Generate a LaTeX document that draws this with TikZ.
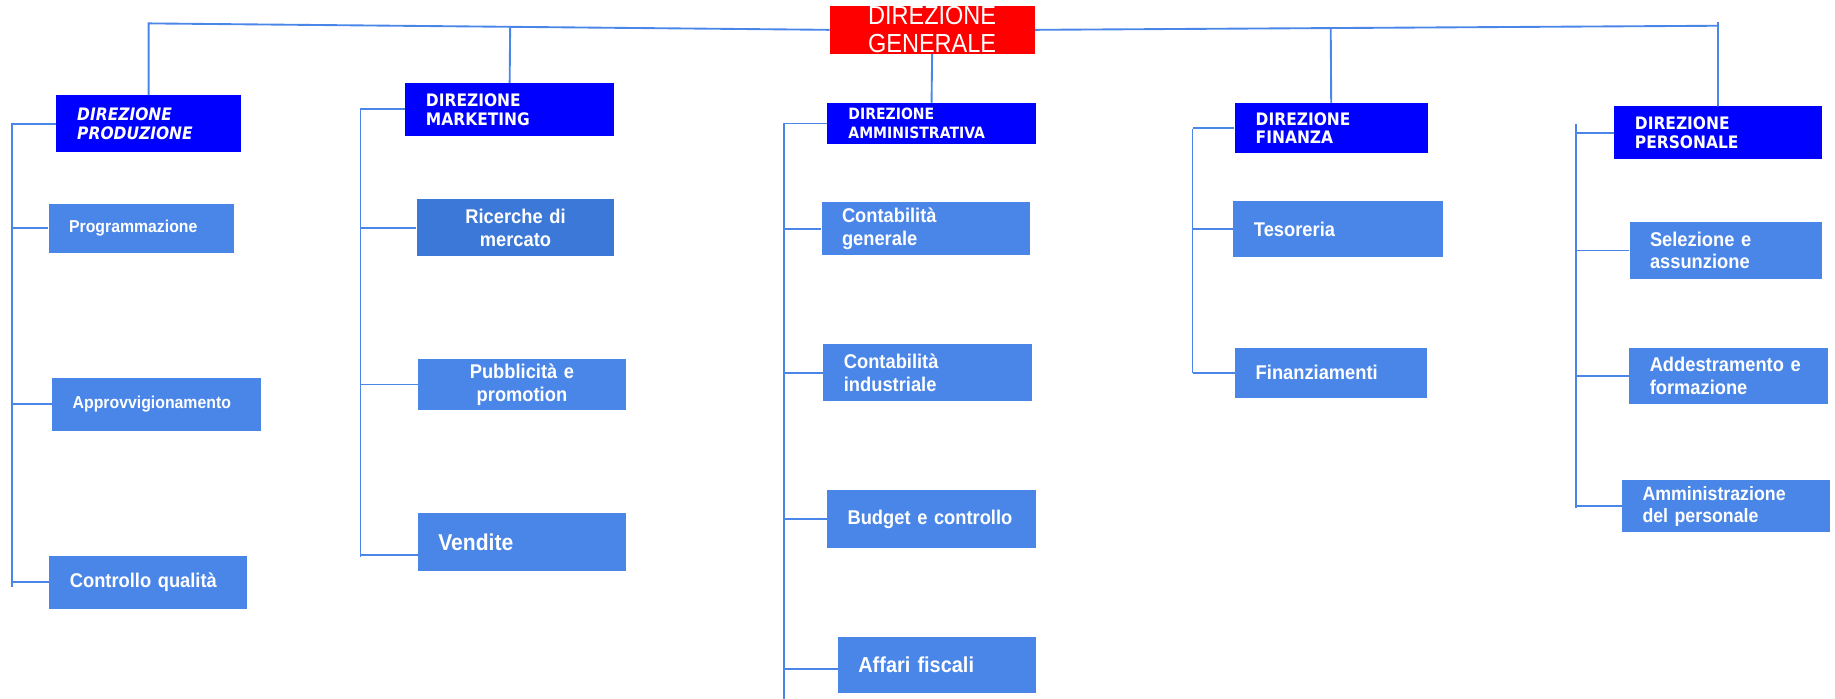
\documentclass[tikz,border=0pt]{standalone}
\usepackage{fontspec}
\setmainfont{Liberation Sans}
\newfontfamily\dgfont[FakeStretch=0.9]{Liberation Sans}
\newfontfamily\boxfont[FakeStretch=0.92]{Liberation Sans}
\newfontfamily\dirfont[FakeStretch=0.9]{DejaVu Sans}
\usetikzlibrary{calc}
\definecolor{linkblue}{RGB}{74,134,232}
\definecolor{unitblue}{RGB}{74,134,232}
\definecolor{unitdark}{RGB}{60,120,216}
\definecolor{dirblue}{RGB}{0,0,255}
\definecolor{topred}{RGB}{255,0,0}

\begin{document}
\begin{tikzpicture}[x=1pt,y=-1pt,
    link/.style={linkblue,line width=1.6pt},
    top/.style={fill=topred,text=white,inner sep=0pt,align=center,
      font=\dgfont\fontsize{22.3}{24}\selectfont},
    dir/.style={fill=dirblue,text=white,inner xsep=18pt,inner ysep=0pt,align=left,
      font=\dirfont\bfseries\fontsize{14.7}{16}\selectfont},
    unit/.style={fill=unitblue,text=white,inner xsep=17.5pt,inner ysep=0pt,align=left,
      font=\boxfont\bfseries\fontsize{17}{19.5}\selectfont},
    small/.style={font=\boxfont\bfseries\fontsize{14.7}{17}\selectfont}]
            \useasboundingbox (0,0) rectangle (1568,597);

            \node[top,minimum width=175pt,minimum height=41pt] (dg) at (796.5,25.5) {DIREZIONE\\GENERALE};

            \node[dir,text width=122pt,minimum height=48.5pt,
              font=\dirfont\bfseries\itshape\fontsize{14.7}{16}\selectfont] (prod) at (127,105.75) {DIREZIONE\\PRODUZIONE};
            \node[dir,text width=143pt,minimum height=45pt] (mkt) at (435.5,93.5) {DIREZIONE\\MARKETING};
            \node[dir,text width=142pt,minimum height=35pt,
              font=\dirfont\bfseries\fontsize{13.3}{15.7}\selectfont] (amm) at (796,105.5) {DIREZIONE\\AMMINISTRATIVA};
            \node[dir,text width=129pt,minimum height=43pt] (fin) at (1137.5,109.5) {DIREZIONE\\FINANZA};
            \node[dir,text width=142pt,minimum height=45pt] (pers) at (1468,113.5) {DIREZIONE\\PERSONALE};

            \node[unit,small,text width=123.5pt,minimum height=42pt] (prog) at (120.75,195) {Programmazione};
            \node[unit,small,text width=143.4pt,minimum height=45pt] (appr) at (133.8,345.5) {Approvvigionamento};
            \node[unit,text width=134pt,minimum height=45pt] (ctrl) at (126.7,497.5) {Controllo qualità};

            \node[unit,fill=unitdark,align=center,text width=134pt,minimum height=49pt] (ric) at (440.5,194.5) {Ricerche di\\mercato};
            \node[unit,align=center,text width=143pt,minimum height=43pt] (pub) at (446,328.5) {Pubblicità e\\promotion};
            \node[unit,text width=143pt,minimum height=50pt,
              font=\boxfont\bfseries\fontsize{19.6}{22}\selectfont] (vend) at (446,463) {Vendite};

            \node[unit,text width=143pt,minimum height=45pt] (cg) at (791,195.5) {Contabilità\\generale};
            \node[unit,text width=143.4pt,minimum height=49pt] (ci) at (792.8,318.5) {Contabilità\\industriale};
            \node[unit,text width=143.5pt,minimum height=49pt] (bud) at (796,443.5) {Budget e controllo};
            \node[unit,text width=134.5pt,minimum height=48pt,
              font=\boxfont\bfseries\fontsize{18.5}{21}\selectfont] (aff) at (800.7,568) {Affari fiscali};

            \node[unit,text width=144pt,minimum height=48pt] (tes) at (1143.5,196) {Tesoreria};
            \node[unit,text width=129pt,minimum height=43pt] (finz) at (1137.5,318.5) {Finanziamenti};

            \node[unit,text width=129.6pt,minimum height=48pt] (sel) at (1474.7,214) {Selezione e\\assunzione};
            \node[unit,text width=134.6pt,minimum height=48pt] (add) at (1477,321) {Addestramento e\\formazione};
            \node[unit,text width=143pt,minimum height=45pt,
              font=\boxfont\bfseries\fontsize{16.5}{19}\selectfont] (amp) at (1475,432.5) {Amministrazione\\del personale};

            % linee verso la direzione generale
            \coordinate (tl) at (127,20);
            \coordinate (tr) at (1468,22);
            \draw[link] (dg.west) -- (tl) -- (prod.north);
            \draw[link] (dg.east) -- (tr) -- (pers.north);
            \draw[link] (tr) -- ++(0,-3.5);
            \draw[link] (mkt.north) -- ($(tl)!(mkt.north)!(dg.west)$);
            \draw[link] (fin.north) -- ($(dg.east)!(fin.north)!(tr)$);
            \draw[link] (dg.south) -- (amm.north);

            % colonne
            \coordinate (s1) at (10,105);   \coordinate (e1) at (10,502);
            \coordinate (s2) at (308,93.5); \coordinate (e2) at (308,476);
            \coordinate (s3) at (670,105);  \coordinate (e3) at (670,597);
            \coordinate (s4) at (1019,110); \coordinate (e4) at (1019,318.5);
            \coordinate (s5) at (1347,106); \coordinate (e5) at (1347,434);
            \draw[link] (s1) -- (e1);
            \draw[link] (s2) -- (e2);
            \draw[link] (s3) -- (e3);
            \draw[link] (s4) -- (e4);
            \draw[link] (s5) -- (e5);

            \draw[link] (prod.west) -- (prod.west -| s1);
            \draw[link] (prog.west) -- (prog.west -| s1);
            \draw[link] (appr.west) -- (appr.west -| s1);
            \draw[link] (ctrl.west) -- (ctrl.west -| s1);

            \draw[link] (mkt.west) -- (mkt.west -| s2);
            \draw[link] (ric.west) -- (ric.west -| s2);
            \draw[link] (pub.west) -- (pub.west -| s2);
            \draw[link] ([yshift=-11pt]vend.west) coordinate (vb) -- (vb -| s2);

            \draw[link] (amm.west) -- (amm.west -| s3);
            \draw[link] (cg.west) -- (cg.west -| s3);
            \draw[link] (ci.west) -- (ci.west -| s3);
            \draw[link] (bud.west) -- (bud.west -| s3);
            \draw[link] ([yshift=-4pt]aff.west) coordinate (ab) -- (ab -| s3);

            \draw[link] (fin.west) -- (fin.west -| s4);
            \draw[link] (tes.west) -- (tes.west -| s4);
            \draw[link] (finz.west) -- (finz.west -| s4);

            \draw[link] (pers.west) -- (pers.west -| s5);
            \draw[link] (sel.west) -- (sel.west -| s5);
            \draw[link] (add.west) -- (add.west -| s5);
            \draw[link] (amp.west) -- (amp.west -| s5);
        \end{tikzpicture}
\end{document}
